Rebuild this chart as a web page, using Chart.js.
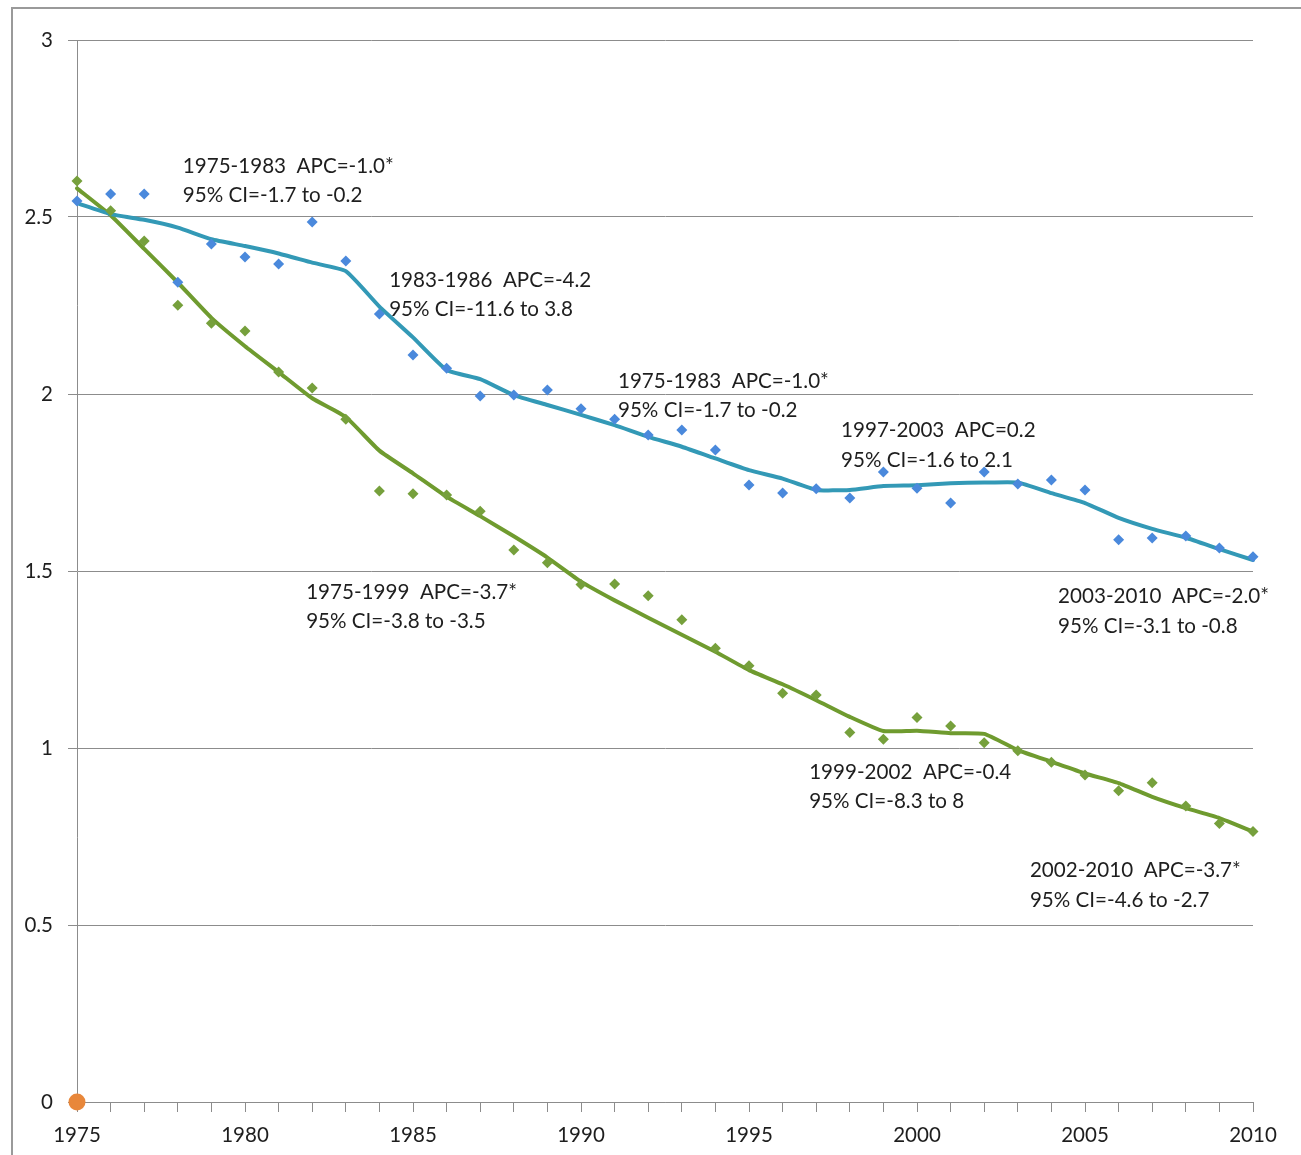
<!DOCTYPE html>
<html>
<head>
<meta charset="utf-8">
<title>Joinpoint trends 1975-2010</title>
<script src="https://cdn.jsdelivr.net/npm/chart.js@4.4.1/dist/chart.umd.min.js"></script>
<style>
  html, body { margin: 0; padding: 0; background: #ffffff; overflow: hidden; }
  #wrap { position: relative; width: 1301px; height: 1155px; }
</style>
</head>
<body>
<div id="wrap"><canvas id="chart"></canvas></div>
<script>
// Years on the horizontal axis
const years = [1975, 1976, 1977, 1978, 1979, 1980, 1981, 1982, 1983, 1984,
               1985, 1986, 1987, 1988, 1989, 1990, 1991, 1992, 1993, 1994,
               1995, 1996, 1997, 1998, 1999, 2000, 2001, 2002, 2003, 2004,
               2005, 2006, 2007, 2008, 2009, 2010];

// Upper series: observed rates and joinpoint fitted values
const blueObserved = [2.545, 2.565, 2.565, 2.316, 2.424, 2.387, 2.367, 2.486, 2.376, 2.226,
                      2.110, 2.073, 1.994, 1.997, 2.011, 1.958, 1.929, 1.884, 1.898, 1.842,
                      1.743, 1.720, 1.732, 1.706, 1.780, 1.734, 1.692, 1.780, 1.746, 1.757,
                      1.729, 1.588, 1.593, 1.599, 1.565, 1.540];
const blueFitted = [2.539, 2.508, 2.492, 2.470, 2.437, 2.418, 2.397, 2.371, 2.347, 2.247,
                    2.160, 2.068, 2.042, 1.997, 1.969, 1.941, 1.912, 1.879, 1.851, 1.818,
                    1.785, 1.761, 1.729, 1.729, 1.740, 1.742, 1.748, 1.750, 1.750, 1.720,
                    1.692, 1.650, 1.619, 1.594, 1.562, 1.531];

// Lower series: observed rates and joinpoint fitted values
const greenObserved = [2.602, 2.518, 2.432, 2.251, 2.200, 2.178, 2.062, 2.017, 1.929, 1.726,
                       1.718, 1.715, 1.669, 1.559, 1.523, 1.462, 1.463, 1.430, 1.362, 1.282,
                       1.232, 1.155, 1.150, 1.044, 1.025, 1.086, 1.062, 1.015, 0.992, 0.960,
                       0.924, 0.879, 0.902, 0.836, 0.787, 0.764];
const greenFitted = [2.581, 2.505, 2.410, 2.315, 2.215, 2.135, 2.062, 1.988, 1.935, 1.840,
                     1.776, 1.710, 1.655, 1.598, 1.538, 1.470, 1.417, 1.368, 1.320, 1.272,
                     1.220, 1.180, 1.135, 1.088, 1.048, 1.049, 1.042, 1.040, 0.994, 0.961,
                     0.928, 0.901, 0.862, 0.830, 0.802, 0.764];

// Single marker at the origin
const originPoint = [{ x: 1975, y: 0 }];

// Y-axis tick values and labels
const yTickValues = [0, 0.5, 1, 1.5, 2, 2.5, 3];
const yTickLabels = ['0', '0.5', '1', '1.5', '2', '2.5', '3'];

// Segment annotations (two lines each)
const segmentTitles = ['1975-1983  APC=-1.0*', '1983-1986  APC=-4.2', '1975-1983  APC=-1.0*',
                       '1997-2003  APC=0.2', '2003-2010  APC=-2.0*', '1975-1999  APC=-3.7*',
                       '1999-2002  APC=-0.4', '2002-2010  APC=-3.7*'];
const segmentCIs = ['95% CI=-1.7 to -0.2', '95% CI=-11.6 to 3.8', '95% CI=-1.7 to -0.2',
                    '95% CI=-1.6 to 2.1', '95% CI=-3.1 to -0.8', '95% CI=-3.8 to -3.5',
                    '95% CI=-8.3 to 8', '95% CI=-4.6 to -2.7'];

// Where each annotation sits, in axis units (left edge year, middle of first line)
const annotationAnchors = [
  { x: 1978.15, y: 2.644 }, { x: 1984.29, y: 2.322 }, { x: 1991.10, y: 2.037 },
  { x: 1997.74, y: 1.897 }, { x: 2004.20, y: 1.427 }, { x: 1981.82, y: 1.441 },
  { x: 1996.79, y: 0.932 }, { x: 2003.36, y: 0.654 }
];

const FONT = 'Lato, "Open Sans", "Liberation Sans", sans-serif';
const GRID = '#8c8c8c';
const TEXT = '#1e1e1e';

const toPoints = (vals) => vals.map((v, i) => ({ x: years[i], y: v }));

// Outer frame around the chart
const framePlugin = {
  id: 'frame',
  beforeDraw(chart) {
    const ctx = chart.ctx;
    ctx.save();
    ctx.strokeStyle = '#9a9a9a';
    ctx.lineWidth = 2;
    ctx.strokeRect(12, 8, chart.width + 10, chart.height + 10);
    ctx.restore();
  }
};

// Segment labels placed through the chart's scales
const segmentLabelPlugin = {
  id: 'segmentLabels',
  afterDatasetsDraw(chart) {
    const { ctx, scales } = chart;
    ctx.save();
    ctx.font = '20.6px ' + FONT;
    ctx.fillStyle = TEXT;
    ctx.textAlign = 'left';
    ctx.textBaseline = 'middle';
    annotationAnchors.forEach((a, i) => {
      const px = scales.x.getPixelForValue(a.x);
      const py = scales.y.getPixelForValue(a.y);
      ctx.fillText(segmentTitles[i], px, py);
      ctx.fillText(segmentCIs[i], px, py + 29.5);
    });
    ctx.restore();
  }
};

new Chart(document.getElementById('chart'), {
  type: 'line',
  data: {
    datasets: [
      {
        label: 'Origin',
        data: originPoint,
        showLine: false,
        pointStyle: 'circle',
        pointRadius: 8.5,
        pointBackgroundColor: '#E8873A',
        pointBorderColor: '#E8873A',
        pointBorderWidth: 0,
        clip: false
      },
      {
        label: 'Observed (upper)',
        data: toPoints(blueObserved),
        showLine: false,
        pointStyle: 'rectRot',
        pointRadius: 5.5,
        pointBackgroundColor: '#4A89DC',
        pointBorderColor: '#4A89DC',
        pointBorderWidth: 0,
        clip: false
      },
      {
        label: 'Observed (lower)',
        data: toPoints(greenObserved),
        showLine: false,
        pointStyle: 'rectRot',
        pointRadius: 5.5,
        pointBackgroundColor: '#76A03C',
        pointBorderColor: '#76A03C',
        pointBorderWidth: 0,
        clip: false
      },
      {
        label: 'Fitted (upper)',
        data: toPoints(blueFitted),
        borderColor: '#3399B6',
        borderWidth: 4,
        pointRadius: 0,
        tension: 0.15,
        borderJoinStyle: 'round',
        borderCapStyle: 'round',
        fill: false,
        clip: false
      },
      {
        label: 'Fitted (lower)',
        data: toPoints(greenFitted),
        borderColor: '#6F9B2F',
        borderWidth: 4,
        pointRadius: 0,
        tension: 0.15,
        borderJoinStyle: 'round',
        borderCapStyle: 'round',
        fill: false,
        clip: false
      }
    ]
  },
  options: {
    responsive: true,
    maintainAspectRatio: false,
    animation: false,
    events: [],
    layout: { padding: { left: 0, top: 40, right: 48, bottom: 0 } },
    plugins: {
      legend: { display: false },
      title: { display: false },
      tooltip: { enabled: false }
    },
    scales: {
      x: {
        type: 'linear',
        min: years[0],
        max: years[years.length - 1],
        afterBuildTicks(scale) {
          scale.ticks = years.map(v => ({ value: v }));
        },
        afterFit(scale) { scale.height = 53; },
        ticks: {
          autoSkip: false,
          maxRotation: 0,
          minRotation: 0,
          padding: 11,
          color: TEXT,
          font: { family: FONT, size: 20.5 },
          callback: (v) => (v % 5 === 0 ? String(v) : '')
        },
        grid: {
          drawOnChartArea: false,
          drawTicks: true,
          tickLength: 10,
          color: GRID,
          lineWidth: 1
        },
        border: { display: true, color: GRID, width: 1 }
      },
      y: {
        type: 'linear',
        min: 0,
        max: 3,
        afterBuildTicks(scale) {
          scale.ticks = yTickValues.map(v => ({ value: v }));
        },
        afterFit(scale) { scale.width = 77; },
        ticks: {
          padding: 15,
          color: TEXT,
          font: { family: FONT, size: 20.5 },
          callback: (v) => yTickLabels[yTickValues.indexOf(v)]
        },
        grid: {
          drawOnChartArea: true,
          drawTicks: true,
          tickLength: 9,
          color: GRID,
          lineWidth: 1
        },
        border: { display: true, color: GRID, width: 1 }
      }
    }
  },
  plugins: [framePlugin, segmentLabelPlugin]
});
</script>
</body>
</html>
